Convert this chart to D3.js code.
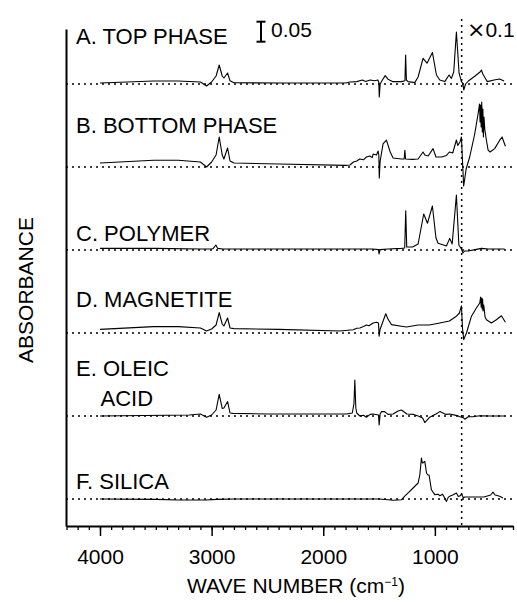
<!DOCTYPE html>
<html>
<head>
<meta charset="utf-8">
<script src="https://cdn.jsdelivr.net/npm/d3@7"></script>
<style>
  body { margin: 0; background: #fff; }
  svg { display: block; font-family: "Liberation Sans", Arial, sans-serif; }
</style>
</head>
<body>
<div id="chart"></div>
<script>
// spectra as [wave number (cm-1), absorbance]; below splitWave the plotted values are x0.1
const topPhase = [[4000,0.0025],[3520,0.0075],[3300,0.0075],[3100,0.005],[3045,-0.005],[3000,0.005],[2960,0.02],[2932,0.0475],[2905,0.02],[2890,0.015],[2857,0.0275],[2835,0.008],[2800,0.003],[2400,0.0025],[1800,0.0025],[1760,0.005],[1700,0.006],[1650,0.01],[1620,0.006],[1580,0.01],[1540,0.008],[1510,0.01],[1502,0.004],[1498,-0.0325],[1490,0],[1470,0.01],[1445,0.021],[1420,0.012],[1380,0.006],[1300,0.006],[1268,0.008],[1262,0.0725],[1255,0.01],[1240,0.006],[1180,0.0035],[1150,0.0175],[1106,0.064],[1070,0.052],[1022,0.079],[986,0.0225],[956,0.01],[911,0.006],[873,0.0225],[852,0.014],[831,0.03],[807,0.13],[783,0.027],[762,0.006],[750,0.002],[741,-0.015],[725,0],[700,0.0075],[640,0.02],[595,0.03],[583,0.035],[570,0.025],[555,0.0175],[530,0.006],[470,0.01],[420,0.0125],[380,0.0075]];

const bottomPhase = [[4000,0.01],[3520,0.017],[3300,0.017],[3100,0.0125],[3045,0],[3000,0.0125],[2960,0.03],[2932,0.075],[2905,0.03],[2890,0.02],[2857,0.0475],[2835,0.015],[2800,0.01],[2400,0.0075],[1800,0.004],[1760,0.005],[1730,0.0125],[1700,0.015],[1672,0.02],[1640,0.018],[1613,0.025],[1583,0.0275],[1560,0.024],[1553,0.0325],[1523,0.03],[1508,0.04],[1502,0.03],[1498,-0.0275],[1490,0.015],[1464,0.058],[1434,0.067],[1400,0.0375],[1374,0.0225],[1300,0.02],[1275,0.02],[1269,0.042],[1262,0.02],[1200,0.019],[1150,0.02],[1106,0.0375],[1090,0.03],[1060,0.0275],[1016,0.046],[990,0.025],[940,0.025],[896,0.029],[870,0.0375],[840,0.035],[807,0.0675],[795,0.054],[775,0.0625],[762,0.075],[752,0.0125],[742,-0.0475],[732,-0.029],[720,-0.005],[688,0.025],[643,0.0825],[613,0.1325],[600,0.1575],[595,0.1125],[590,0.155],[585,0.1],[580,0.1625],[575,0.0875],[570,0.145],[565,0.075],[560,0.125],[553,0.095],[540,0.07],[523,0.042],[505,0.0375],[464,0.046],[419,0.067],[398,0.075],[368,0.052]];

const polymer = [[4000,0.004],[3500,0.004],[3100,0.0025],[3000,0.0025],[2985,0.004],[2962,0.0125],[2945,0.004],[2900,0.0025],[1800,0.0025],[1560,0.0025],[1505,0.001],[1500,-0.01],[1490,0.001],[1420,0.0025],[1300,0.004],[1270,0.005],[1261,0.098],[1252,0.0075],[1200,0.0075],[1150,0.015],[1100,0.09],[1066,0.067],[1022,0.11],[990,0.03],[971,0.017],[896,0.01],[867,0.029],[845,0.015],[807,0.1375],[785,0.0125],[762,0.0025],[748,-0.0075],[735,-0.0025],[700,-0.0025],[640,0.001],[583,0.004],[520,0.0025],[450,0.0025],[375,0.0025]];

const magnetite = [[4000,0.009],[3520,0.016],[3300,0.016],[3100,0.0125],[3045,0.005],[3000,0.01],[2960,0.02],[2932,0.051],[2905,0.0225],[2890,0.0175],[2857,0.0375],[2835,0.0125],[2800,0.011],[2400,0.009],[1853,0.005],[1732,0.008],[1700,0.012],[1672,0.0125],[1640,0.016],[1613,0.02],[1590,0.018],[1553,0.025],[1523,0.027],[1505,0.025],[1499,-0.008],[1490,0.01],[1470,0.025],[1440,0.048],[1420,0.035],[1389,0.021],[1300,0.017],[1254,0.015],[1150,0.02],[1050,0.02],[956,0.025],[870,0.03],[807,0.042],[780,0.05],[762,0.068],[752,0.01],[741,-0.0165],[732,-0.01],[717,0],[672,0.042],[628,0.0625],[598,0.075],[590,0.09],[585,0.065],[580,0.0875],[576,0.06],[572,0.085],[568,0.055],[562,0.07],[550,0.04],[538,0.033],[494,0.025],[449,0.033],[404,0.043],[368,0.027]];

const oleicAcid = [[4000,0],[3200,0.0025],[3100,0.005],[3045,-0.003],[3000,0.0025],[2960,0.015],[2932,0.054],[2905,0.019],[2890,0.02],[2857,0.036],[2835,0.0075],[2807,0.0065],[2500,0.005],[1792,0.005],[1740,0.0075],[1725,0.03],[1717,0.09],[1708,0.02],[1700,0.0075],[1672,0],[1640,0.002],[1613,-0.003],[1580,0.004],[1553,0.005],[1505,0.0025],[1499,-0.0225],[1490,0.005],[1478,0.011],[1449,0.011],[1420,0.004],[1374,0.005],[1330,0.0125],[1299,0.015],[1250,0.005],[1190,0.004],[1150,0],[1110,-0.005],[1090,-0.0165],[1046,-0.003],[990,0.005],[956,0.011],[900,0.004],[867,0.005],[800,0.001],[777,-0.002],[745,-0.004],[732,-0.008],[700,-0.002],[658,-0.002],[600,0.0005],[500,0],[374,0]];

const silica = [[4000,0],[3500,-0.001],[3300,-0.0025],[3050,-0.0025],[2950,-0.001],[2800,0],[2000,0],[1500,0],[1420,-0.002],[1374,-0.003],[1300,-0.002],[1270,0.007],[1230,0.018],[1195,0.0275],[1150,0.04],[1135,0.06],[1120,0.1025],[1112,0.09],[1106,0.09],[1098,0.0925],[1090,0.094],[1075,0.065],[1062,0.06],[1052,0.06],[1031,0.023],[1001,0.011],[970,0.012],[956,0.008],[930,0.012],[896,-0.006],[880,0.004],[867,0.007],[840,0.01],[807,0.015],[790,0.006],[777,0.0075],[760,0.012],[745,0.003],[732,0.005],[650,0.005],[560,0.005],[500,0.01],[479,0.017],[460,0.01],[419,0.007],[389,0.0025]];

const spectra = [topPhase, bottomPhase, polymer, magnetite, oleicAcid, silica];
const panelNames = [["A. TOP PHASE"], ["B. BOTTOM PHASE"], ["C. POLYMER"], ["D. MAGNETITE"], ["E. OLEIC", "ACID"], ["F. SILICA"]];
const majorTicks = [4000, 3000, 2000, 1000];
const splitWave = 760;
const scaleBar = 0.05;
const zoomFactor = "0.1";

const W = 517, H = 603;
const svg = d3.select("#chart").append("svg")
  .attr("width", W)
  .attr("height", H);

const x = d3.scaleLinear().domain([4300, 300]).range([66.5, 513]);
// absorbance -> pixels (0.05 = 20px)
const a = d3.scaleLinear().domain([0, scaleBar]).range([0, 20]);
// baseline of each trace
const base = d3.scalePoint().domain(d3.range(spectra.length)).range([84, 499]);
const labelDy = [-40.5, -34, -9, -26, -40, -10];

const axisY = 526;

// dotted baselines
svg.selectAll(".baseline")
  .data(spectra)
  .enter()
  .append("line")
  .attr("x1", 66).attr("x2", 513)
  .attr("y1", (d, i) => base(i)).attr("y2", (d, i) => base(i))
  .attr("stroke", "#000")
  .attr("stroke-width", 1.5)
  .attr("stroke-dasharray", "2,4");

// vertical dotted line where the x0.1 region starts
svg.append("line")
  .attr("x1", x(splitWave)).attr("x2", x(splitWave))
  .attr("y1", 19).attr("y2", axisY)
  .attr("stroke", "#000")
  .attr("stroke-width", 1.5)
  .attr("stroke-dasharray", "2,4");

// traces
const line = d3.line()
  .x(d => x(d[0]));

svg.selectAll(".trace")
  .data(spectra)
  .enter()
  .append("path")
  .attr("fill", "none")
  .attr("stroke", "#000")
  .attr("stroke-width", 1.1)
  .attr("stroke-linejoin", "round")
  .attr("d", (d, i) => line.y(p => base(i) - a(p[1]))(d));

// panel labels
panelNames.forEach((lines, i) => {
  lines.forEach((t, j) => {
    svg.append("text")
      .attr("x", j === 0 ? 76 : 100.5)
      .attr("y", base(i) + labelDy[i] + j * 30)
      .attr("font-size", 22)
      .text(t);
  });
});

// x axis: minor ticks every 100, major with labels
const gx = svg.append("g").attr("transform", `translate(0,${axisY})`);
gx.append("g")
  .call(d3.axisBottom(x).tickValues(d3.range(4300, 299, -100)).tickSize(4).tickSizeOuter(0).tickFormat(""))
  .call(g => g.select(".domain").remove())
  .call(g => g.selectAll("line").attr("stroke-width", 1.3));
gx.append("g")
  .call(d3.axisBottom(x).tickValues(majorTicks).tickSize(10).tickSizeOuter(0).tickPadding(13).tickFormat(d3.format("d")))
  .call(g => g.select(".domain").attr("stroke-width", 2))
  .call(g => g.selectAll("line").attr("stroke-width", 1.5))
  .call(g => g.selectAll("text").attr("font-size", 21).attr("font-family", "Liberation Sans, Arial, sans-serif").attr("fill", "#000"));

// y axis (no ticks)
const yAxisScale = d3.scaleLinear().domain([0, 1]).range([axisY, 29]);
svg.append("g")
  .attr("transform", "translate(66,0)")
  .call(d3.axisLeft(yAxisScale).tickValues([]).tickSizeOuter(0))
  .call(g => g.select(".domain").attr("stroke-width", 2));

// axis titles
const xt = svg.append("text")
  .attr("x", 296).attr("y", 593)
  .attr("text-anchor", "middle")
  .attr("font-size", 21);
xt.append("tspan").text("WAVE NUMBER (cm");
xt.append("tspan").attr("font-size", 12).attr("dy", -7).text("\u22121");
xt.append("tspan").attr("dy", 7).text(")");

svg.append("text")
  .attr("transform", "translate(33,290) rotate(-90)")
  .attr("text-anchor", "middle")
  .attr("font-size", 21)
  .text("ABSORBANCE");

// scale bar
const sbX = 261, sbBottom = 41.7;
const sb = svg.append("g");
sb.append("line").attr("x1", sbX).attr("x2", sbX).attr("y1", sbBottom).attr("y2", sbBottom - a(scaleBar));
sb.append("line").attr("x1", sbX - 4.5).attr("x2", sbX + 4.5).attr("y1", sbBottom).attr("y2", sbBottom);
sb.append("line").attr("x1", sbX - 4.5).attr("x2", sbX + 4.5).attr("y1", sbBottom - a(scaleBar)).attr("y2", sbBottom - a(scaleBar));
sb.selectAll("line").attr("stroke", "#000").attr("stroke-width", 2);
svg.append("text")
  .attr("x", 271).attr("y", 37)
  .attr("font-size", 21)
  .text(scaleBar.toFixed(2));

// x0.1 marker
const zt = svg.append("text")
  .attr("x", 467).attr("y", 37)
  .attr("font-size", 21);
zt.append("tspan")
  .attr("font-family", "DejaVu Sans, sans-serif")
  .attr("font-size", 22)
  .text("\u00d7");
zt.append("tspan").text(zoomFactor);
</script>
</body>
</html>
